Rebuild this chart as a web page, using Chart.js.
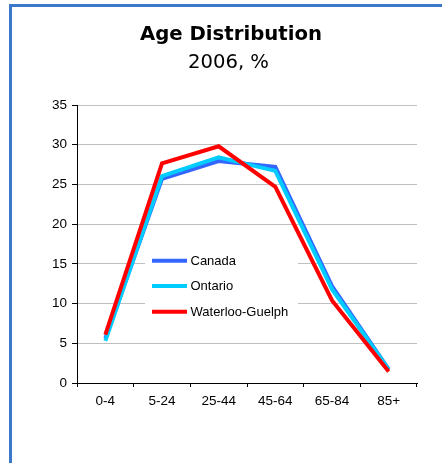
<!DOCTYPE html>
<html>
<head>
<meta charset="utf-8">
<script src="https://cdn.jsdelivr.net/npm/chart.js@4"></script>
<style>
  html, body { margin: 0; padding: 0; background: #fff; overflow: hidden; }
  #frame { position: absolute; left: 9px; top: 4px; width: 600px; height: 600px;
           border: 3px solid #3b78c9; box-sizing: border-box; }
  #c { position: absolute; left: 0; top: 0; }
</style>
</head>
<body>
<div id="frame"></div>
<canvas id="c" width="442" height="463"></canvas>
<script>
// Age groups and share of population (%) in 2006
const ageGroups = ['0-4', '5-24', '25-44', '45-64', '65-84', '85+'];
const canada = [5.6, 25.7, 27.95, 27.2, 12.2, 1.7];
const ontario = [5.3, 26.05, 28.4, 26.7, 11.8, 1.7];
const waterlooGuelph = [6.1, 27.65, 29.8, 24.7, 10.4, 1.45];
const yTicks = [0, 5, 10, 15, 20, 25, 30, 35];

const titleText = 'Age Distribution';
const subtitleText = '2006, %';

const seriesNames = ['Canada', 'Ontario', 'Waterloo-Guelph'];
const seriesColors = ['#3366ff', '#00ccff', '#ff0000'];

const labelFont = '"Liberation Sans", Arial, sans-serif';
const headFont = '"DejaVu Sans", "Lato", sans-serif';

// Draws a line of text centred at cx, stretched or squeezed to a given width
function fitText(ctx, text, cx, y, width) {
  const w = ctx.measureText(text).width;
  ctx.save();
  ctx.translate(cx, y);
  ctx.scale(width / w, 1);
  ctx.textAlign = 'center';
  ctx.fillText(text, 0, 0);
  ctx.restore();
}

// Heading drawn above the plot
const headingPlugin = {
  id: 'heading',
  afterDraw(chart) {
    const ctx = chart.ctx;
    ctx.save();
    ctx.fillStyle = '#000';
    ctx.textBaseline = 'alphabetic';
    ctx.font = 'bold 20px ' + headFont;
    fitText(ctx, titleText, 231, 40, 182);
    ctx.font = '20px ' + headFont;
    fitText(ctx, subtitleText, 228.5, 68, 81);
    ctx.restore();
  }
};

// Legend box sitting inside the plot, over the grid, under the lines
const innerLegend = {
  id: 'innerLegend',
  beforeDatasetsDraw(chart) {
    const ctx = chart.ctx;
    ctx.save();
    ctx.fillStyle = '#fff';
    ctx.fillRect(145, 246, 153, 78);
    ctx.font = '13px ' + labelFont;
    ctx.textBaseline = 'middle';
    ctx.textAlign = 'left';
    const ys = [260.7, 286, 311.7];
    seriesNames.forEach((name, i) => {
      ctx.strokeStyle = seriesColors[i];
      ctx.lineWidth = 4;
      ctx.lineCap = 'butt';
      ctx.beginPath();
      ctx.moveTo(152, ys[i]);
      ctx.lineTo(187, ys[i]);
      ctx.stroke();
      ctx.fillStyle = '#000';
      ctx.fillText(name, 190.5, ys[i] + 0.5);
    });
    ctx.restore();
  }
};

const datasets = [canada, ontario, waterlooGuelph].map((vals, i) => ({
  label: seriesNames[i],
  data: vals,
  borderColor: seriesColors[i],
  backgroundColor: seriesColors[i],
  borderWidth: 4,
  pointRadius: 0,
  tension: 0,
  order: 2 - i
}));

new Chart(document.getElementById('c'), {
  type: 'line',
  data: { labels: ageGroups, datasets },
  options: {
    responsive: false,
    animation: false,
    devicePixelRatio: 1,
    layout: { padding: { top: 105, left: 0, right: 25, bottom: 50 } },
    plugins: {
      legend: { display: false },
      title: { display: false },
      tooltip: { enabled: false }
    },
    scales: {
      x: {
        offset: true,
        grid: { offset: true, drawOnChartArea: false, tickLength: 4, tickColor: '#000', lineWidth: 1 },
        border: { color: '#000', width: 1 },
        ticks: { color: '#000', font: { family: labelFont, size: 13.5 }, padding: 6, maxRotation: 0 },
        afterFit(s) { s.height = 30; }
      },
      y: {
        min: 0, max: 35,
        afterBuildTicks(s) { s.ticks = yTicks.map(v => ({ value: v })); },
        grid: { color: '#c0c0c0', tickColor: '#000', tickLength: 5, lineWidth: 1 },
        border: { color: '#000', width: 1 },
        ticks: { color: '#000', font: { family: labelFont, size: 13.5 }, padding: 5 },
        afterFit(s) { s.width = 77; }
      }
    }
  },
  plugins: [headingPlugin, innerLegend]
});
</script>
</body>
</html>
